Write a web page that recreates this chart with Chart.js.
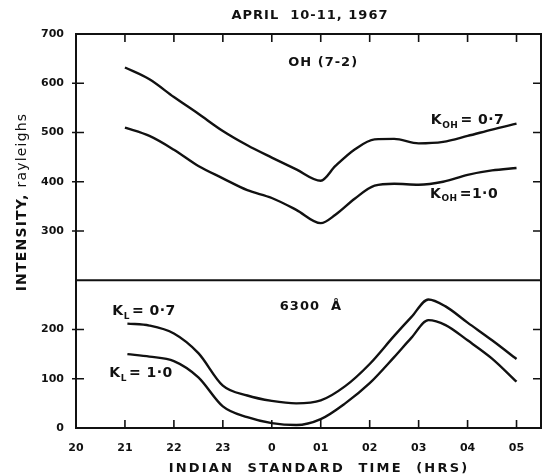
<!DOCTYPE html>
<html>
<head>
<meta charset="utf-8">
<script src="https://cdn.jsdelivr.net/npm/chart.js@4.4.0/dist/chart.umd.min.js"></script>
<style>
  html, body { margin: 0; padding: 0; background: #fff; }
</style>
</head>
<body>
<canvas id="myChart" width="545" height="476"></canvas>
<script>
// hours counted from 20 h IST (0 = 20 h, 4 = 0 h, 9 = 05 h)
var tickHours = [0, 1, 2, 3, 4, 5, 6, 7, 8, 9];
var tickLabels = ['20', '21', '22', '23', '0', '01', '02', '03', '04', '05'];

var ohTicks = [300, 400, 500, 600, 700];
var redTicks = [0, 100, 200];

// OH (7-2) band, upper panel
var ohHours = [1, 1.5, 2, 2.5, 3, 3.5, 4, 4.5, 5, 5.3, 5.7, 6.1, 6.5, 7, 7.5, 8, 8.5, 9];
var ohK07 = [632, 608, 572, 538, 503, 474, 449, 425, 402, 432, 466, 486, 487, 478, 481, 493, 506, 518];
var ohK10 = [510, 493, 465, 432, 407, 383, 367, 343, 316, 333, 366, 392, 396, 394, 400, 414, 423, 428];

// 6300 A line, lower panel
var redHours = [1.05, 1.5, 2, 2.5, 3, 3.5, 4, 4.5, 5, 5.5, 6, 6.5, 6.85, 7.2, 7.55, 8, 8.5, 9];
var redK07 = [212, 208, 192, 152, 86, 66, 55, 50, 56, 85, 130, 187, 225, 261, 247, 214, 178, 140];
var redK10 = [150, 145, 136, 103, 44, 22, 10, 6, 18, 50, 91, 144, 183, 219, 209, 178, 141, 94];

var INK = '#111';
var FONT = 'DejaVu Sans';

function pts(xs, ys) {
  return xs.map((x, i) => ({ x: x, y: ys[i] }));
}

function curve(xs, ys, axis) {
  return {
    data: pts(xs, ys),
    yAxisID: axis,
    borderColor: INK,
    borderWidth: 2.4,
    pointRadius: 0,
    cubicInterpolationMode: 'monotone',
    fill: false
  };
}

// frame, inward ticks and all the lettering
var paperPlugin = {
  id: 'paper',
  afterDraw(chart) {
    var c = chart.ctx, a = chart.chartArea;
    var x = chart.scales.x, yo = chart.scales.yOH, yr = chart.scales.yRed;
    c.save();
    c.strokeStyle = INK;
    c.lineWidth = 2;
    c.strokeRect(a.left, a.top, a.right - a.left, a.bottom - a.top);
    // panel divider
    c.beginPath();
    c.moveTo(a.left, yr.top);
    c.lineTo(a.right, yr.top);
    c.stroke();

    c.lineWidth = 1.6;
    c.beginPath();
    tickHours.slice(1).forEach(h => {
      var px = x.getPixelForValue(h);
      c.moveTo(px, a.bottom); c.lineTo(px, a.bottom - 8);
      c.moveTo(px, a.top); c.lineTo(px, a.top + 8);
    });
    [[yo, ohTicks.slice(0, -1)], [yr, redTicks.slice(1)]].forEach(p => {
      p[1].forEach(v => {
        var py = p[0].getPixelForValue(v);
        c.moveTo(a.left - 4, py); c.lineTo(a.left + 8, py);
        c.moveTo(a.right - 8, py); c.lineTo(a.right, py);
      });
    });
    c.stroke();

    c.fillStyle = INK;
    c.textAlign = 'center';
    c.textBaseline = 'middle';
    c.letterSpacing = '1px';
    c.font = 'bold 13px "' + FONT + '"';
    c.fillText('APRIL  10-11, 1967', 310, 16);

    c.font = 'bold 13px "' + FONT + '"';
    c.fillText('OH (7-2)', x.getPixelForValue(5.05), yo.getPixelForValue(641));
    c.fillText('6300  \u00c5', x.getPixelForValue(4.8), yr.getPixelForValue(247));

    function kLabel(sub, val, px, py) {
      c.textAlign = 'left';
      c.letterSpacing = '0.5px';
      c.font = 'bold 14px "' + FONT + '"';
      var w1 = c.measureText('K').width;
      c.font = 'bold 9px "' + FONT + '"';
      var w2 = c.measureText(sub).width;
      c.font = 'bold 14px "' + FONT + '"';
      var w3 = c.measureText(val).width;
      var x0 = px - (w1 + w2 + w3 + 2) / 2;
      c.fillText('K', x0, py);
      c.font = 'bold 9px "' + FONT + '"';
      c.fillText(sub, x0 + w1, py + 5);
      c.font = 'bold 14px "' + FONT + '"';
      c.fillText(val, x0 + w1 + w2 + 2, py);
    }
    kLabel('OH', '= 0\u00b77', x.getPixelForValue(8.0), yo.getPixelForValue(525));
    kLabel('OH', '=1\u00b70', x.getPixelForValue(7.93), yo.getPixelForValue(375));
    kLabel('L', '= 0\u00b77', x.getPixelForValue(1.39), yr.getPixelForValue(237));
    kLabel('L', '= 1\u00b70', x.getPixelForValue(1.33), yr.getPixelForValue(111));

    c.textAlign = 'center';
    c.letterSpacing = '2.2px';
    c.font = 'bold 13px "' + FONT + '"';
    c.fillText('INDIAN  STANDARD  TIME  (HRS)', 319, 469);

    // y title: capitals bold, unit lighter
    c.translate(22, 202);
    c.rotate(-Math.PI / 2);
    c.textAlign = 'left';
    c.letterSpacing = '1.2px';
    c.font = 'bold 14px "' + FONT + '"';
    var head = 'INTENSITY, ';
    var wHead = c.measureText(head).width;
    c.font = '14px "' + FONT + '"';
    var wUnit = c.measureText('rayleighs').width;
    var x0 = -(wHead + wUnit) / 2;
    c.font = 'bold 14px "' + FONT + '"';
    c.fillText(head, x0, 0);
    c.font = '14px "' + FONT + '"';
    c.fillText('rayleighs', x0 + wHead, 0);
    c.restore();
  }
};

var tickFont = { family: FONT, size: 11, weight: 'bold' };

var ctx = document.getElementById('myChart').getContext('2d');
var myChart = new Chart(ctx, {
  type: 'line',
  data: {
    datasets: [
      curve(ohHours, ohK07, 'yOH'),
      curve(ohHours, ohK10, 'yOH'),
      curve(redHours, redK07, 'yRed'),
      curve(redHours, redK10, 'yRed')
    ]
  },
  options: {
    responsive: false,
    animation: false,
    layout: { padding: { top: 34, left: 0, right: 4, bottom: 0 } },
    plugins: { legend: { display: false }, tooltip: { enabled: false } },
    scales: {
      x: {
        type: 'linear',
        min: 0,
        max: 9.5,
        afterBuildTicks: s => { s.ticks = tickHours.map(v => ({ value: v })); },
        afterFit: s => { s.height = 48; },
        ticks: {
          callback: v => tickLabels[tickHours.indexOf(v)],
          color: INK, font: tickFont, padding: 6, maxRotation: 0, autoSkip: false
        },
        grid: { display: false },
        border: { display: false }
      },
      yRed: {
        type: 'linear',
        stack: 'panels',
        stackWeight: 300,
        min: 0,
        max: 300,
        afterBuildTicks: s => { s.ticks = redTicks.map(v => ({ value: v })); },
        afterFit: s => { s.width = 76; },
        ticks: { color: INK, font: tickFont, padding: 4 },
        grid: { display: false },
        border: { display: false }
      },
      yOH: {
        type: 'linear',
        stack: 'panels',
        stackWeight: 500,
        min: 200,
        max: 700,
        afterBuildTicks: s => { s.ticks = ohTicks.map(v => ({ value: v })); },
        afterFit: s => { s.width = 76; },
        ticks: { color: INK, font: tickFont, padding: 4 },
        grid: { display: false },
        border: { display: false }
      }
    }
  },
  plugins: [paperPlugin]
});
</script>
</body>
</html>
